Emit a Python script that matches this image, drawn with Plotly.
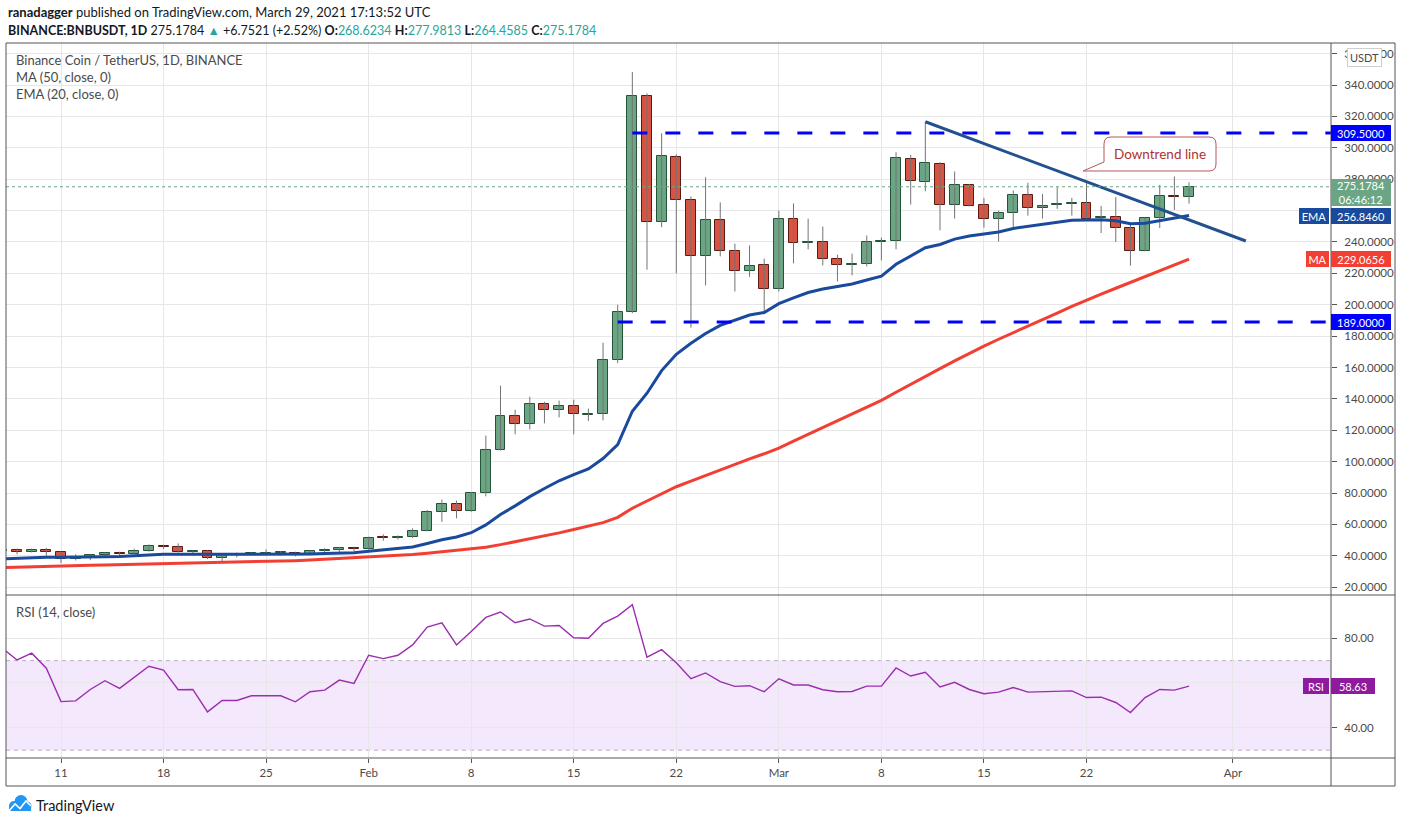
import plotly.graph_objects as go
import pandas as pd

# ---------------- data ----------------
dates = pd.date_range("2021-01-07", "2021-03-29", freq="D")

opens = [43.2, 43.9, 42.6, 43.9, 42.6, 38.1, 38.6, 40.6, 41.8, 41.2, 43.3, 46.5, 45.8,
         42.6, 43.0, 38.7, 41.1, 41.3, 41.7, 41.9, 42.0, 41.1, 42.8, 43.4, 45.1,
         44.3, 51.6, 51.4, 52.2, 56.0, 68.2, 73.0, 68.6, 80.0, 107.4, 129.1, 124.0, 136.7,
         132.9, 135.5, 129.8, 130.1, 164.8, 195.3, 332.8, 252.8, 294.4, 266.9, 231.0, 254.1,
         234.2, 221.4, 225.3,
         209.9, 254.7, 239.4, 240.0, 229.1, 225.5, 225.9, 239.8, 240.6, 292.8, 278.1, 289.6,
         263.4, 276.2, 263.4, 254.5, 258.3, 269.8, 261.5, 263.6, 264.2, 264.7, 255.3, 255.7,
         248.7, 234.0, 255.1, 269.1, 268.6234]
highs = [44.5, 44.6, 44.7, 45.1, 42.8, 40.9, 40.9, 42.3, 42.6, 44.5, 47.2, 47.0, 47.9,
         43.0, 43.4, 41.5, 42.0, 42.1, 44.0, 43.0, 42.6, 43.4, 44.8, 45.6, 45.8,
         52.2, 53.7, 53.0, 57.5, 69.2, 75.8, 75.2, 80.6, 116.6, 148.4, 133.1, 141.4, 138.2,
         138.9, 139.5, 133.8, 175.8, 200.0, 348.3, 334.7, 309.3, 295.9, 269.0, 281.2, 265.2,
         238.9, 237.7, 229.3,
         260.0, 264.5, 254.9, 249.8, 231.9, 232.5, 244.1, 242.8, 297.2, 295.5, 316.6, 290.9,
         284.9, 277.0, 268.1, 260.0, 272.8, 277.7, 270.6, 274.9, 268.1, 277.7, 263.0, 268.7,
         252.1, 255.5, 276.4, 281.7, 277.9813]
lows = [42.0, 40.9, 42.1, 40.0, 35.3, 37.0, 37.2, 39.5, 38.7, 40.8, 42.6, 44.4, 42.1,
        40.2, 37.9, 35.9, 39.0, 40.5, 40.2, 40.2, 39.6, 40.8, 41.6, 42.4, 42.8,
        43.8, 49.6, 50.4, 51.3, 55.6, 61.6, 63.9, 68.0, 77.9, 107.0, 117.4, 120.6, 124.4,
        128.2, 117.4, 125.9, 126.3, 162.8, 194.6, 222.3, 249.4, 220.0, 185.4, 212.3, 230.8,
        208.4, 217.8, 194.6,
        208.4, 226.4, 235.3, 225.1, 214.8, 218.7, 224.4, 228.3, 235.3, 263.8, 272.3, 247.4,
        254.9, 262.6, 249.1, 240.2, 248.1, 256.8, 254.9, 261.1, 256.8, 253.6, 245.7, 240.0,
        224.9, 234.0, 248.9, 260.4, 264.4585]
closes = [43.9, 42.6, 43.9, 42.6, 38.1, 38.6, 40.6, 41.8, 41.2, 43.3, 46.5, 45.8, 42.6,
          43.0, 38.7, 41.1, 41.3, 41.7, 41.9, 42.0, 41.1, 42.8, 43.4, 45.1, 44.3,
          51.6, 51.4, 52.2, 56.0, 68.2, 73.0, 68.6, 80.0, 107.4, 129.1, 124.0, 136.7, 132.9,
          135.5, 130.4, 130.1, 164.8, 195.3, 332.8, 252.8, 295.0, 266.9, 231.0, 254.1, 234.2,
          221.4, 224.6, 209.9,
          254.7, 239.4, 239.9, 229.1, 225.3, 225.9, 240.2, 240.3, 293.2, 278.7, 290.4, 263.4,
          276.2, 263.2, 254.5, 258.3, 269.8, 261.5, 262.8, 264.2, 264.8, 254.5, 255.8, 248.7,
          234.0, 255.1, 269.1, 268.4263, 275.1784]

ema20 = [38.0, 38.4, 38.7, 39.0, 39.0, 39.0, 39.2, 39.4, 39.6, 39.9, 40.5, 41.0, 41.1,
         41.2, 40.9, 40.9, 40.9, 41.0, 41.0, 41.1, 41.1, 41.2, 41.4, 41.8, 42.0,
         42.9, 43.7, 44.5, 45.6, 47.8, 50.2, 52.0, 54.7, 59.7, 66.3, 71.8, 77.7, 82.9,
         87.8, 91.7, 95.4, 102.0, 110.9, 132.1, 143.6, 158.0, 168.4, 175.4, 181.7, 186.8,
         190.1, 193.4, 195.0,
         200.7, 204.4, 207.8, 210.0, 211.5, 213.2, 215.8, 218.2, 225.8, 231.0, 236.3, 238.4,
         241.8, 243.8, 245.0, 246.4, 248.6, 250.0, 251.4, 252.7, 253.8, 254.0, 254.1, 253.5,
         251.6, 251.9, 253.6, 255.0, 256.846]

ma50 = [32.5, 32.8, 33.0, 33.3, 33.5, 33.7, 33.9, 34.1, 34.3, 34.5, 34.7, 34.8, 35.0,
        35.2, 35.4, 35.6, 35.8, 36.0, 36.3, 36.6, 36.9, 37.3, 37.8, 38.3, 38.7,
        39.1, 39.6, 40.1, 40.8, 41.6, 42.5, 43.3, 44.2, 45.5, 47.1, 48.9, 50.8, 52.7,
        54.6, 56.7, 58.7, 61.1, 64.5, 70.3, 74.9, 79.4, 84.0, 87.6, 91.2, 94.8,
        98.4, 101.8, 105.0,
        108.6, 113.0, 117.3, 121.6, 125.8, 130.0, 134.4, 139.0, 144.2, 149.4, 154.4, 159.3,
        164.2, 169.0, 173.6, 178.0, 182.3, 186.5, 190.6, 194.7, 198.9, 203.0, 206.7, 210.5,
        214.3, 218.0, 221.8, 225.5, 229.0656]

rsi14 = [75.5, 70.3, 73.3, 66.6, 51.7, 52.0, 57.1, 61.0, 57.6, 62.5, 67.5, 65.8, 57.0,
         57.1, 47.1, 52.2, 52.2, 54.3, 54.3, 54.3, 51.6, 56.1, 56.8, 61.3, 59.8,
         72.4, 70.9, 72.4, 77.0, 85.0, 86.9, 77.0, 83.0, 89.3, 91.7, 86.9, 88.6, 85.4,
         85.7, 80.2, 80.0, 86.6, 89.9, 95.0, 71.5, 74.9, 69.0, 61.9, 64.5, 60.6,
         58.5, 58.8, 56.1,
         61.9, 59.1, 59.1, 57.0, 56.1, 56.2, 58.6, 58.6, 66.7, 63.1, 64.8, 58.2,
         60.3, 57.1, 55.2, 55.9, 58.0, 55.9, 56.2, 56.5, 56.5, 53.5, 53.7, 51.3,
         46.8, 53.5, 57.1, 56.8, 58.63]

levels = [309.5, 189.0]
level_starts = ["2021-02-19", "2021-02-18"]
trend_dates = ["2021-03-11", "2021-04-01 21:00"]
trend_prices = [316.6, 240.6]

price_ticks = [20, 40, 60, 80, 100, 120, 140, 160, 180, 200, 220, 240, 260, 280, 300, 320, 340, 360]
price_hidden = [260]  # label fully covered by the price/EMA tags in the reference
rsi_ticks = [40, 60, 80]
rsi_ticktext = ["40.00", "", "80.00"]
date_ticks = ["2021-01-11", "2021-01-18", "2021-01-25", "2021-02-01", "2021-02-08", "2021-02-15",
              "2021-02-22", "2021-03-01", "2021-03-08", "2021-03-15", "2021-03-22", "2021-04-01"]
date_ticktext = ["11", "18", "25", "Feb", "8", "15", "22", "Mar", "8", "15", "22", "Apr"]

# ---------------- geometry helpers ----------------
W, H = 1402, 823
PL, PR, PT, PB = 6, 1331, 43, 758
SEP = 595


def pxx(x):
    return (x - PL) / (PR - PL)


def pxy(y):
    return (PB - y) / (PB - PT)


def path(points, close=True):
    s = ""
    for p in points:
        cmd = p[0]
        if cmd == "Q":
            s += f" Q{pxx(p[1]):.5f},{pxy(p[2]):.5f} {pxx(p[3]):.5f},{pxy(p[4]):.5f}"
        else:
            s += f" {cmd}{pxx(p[1]):.5f},{pxy(p[2]):.5f}"
    return s.strip() + (" Z" if close else "")


UP_FILL, UP_LINE = "#6ba583", "#225437"
DN_FILL, DN_LINE = "#d75442", "#5b1a13"
WICK = "#737375"
EMA_C = "#1a4a9b"
MA_C = "#f23f33"
RSI_C = "#9b2eaf"
GRID = "#e7e7e7"
FRAME = "#555555"
TXT = "#4a4a4a"
FONT = "Lato"

fig = go.Figure()

# wicks
wx, wy = [], []
for d, lo, hi in zip(dates, lows, highs):
    wx += [d, d, None]
    wy += [lo, hi, None]
fig.add_trace(go.Scatter(x=wx, y=wy, mode="lines", line=dict(color=WICK, width=1),
                         hoverinfo="skip", showlegend=False, yaxis="y"))

# bodies
bw = 0.68 * 86400000
for up in (True, False):
    xs, base, hgt = [], [], []
    for d, o, c in zip(dates, opens, closes):
        if (c >= o) == up:
            xs.append(d)
            base.append(min(o, c))
            hgt.append(max(abs(c - o), 0.25))
    fig.add_trace(go.Bar(x=xs, y=hgt, base=base, width=bw,
                         marker=dict(color=UP_FILL if up else DN_FILL,
                                     line=dict(color=UP_LINE if up else DN_LINE, width=1)),
                         hoverinfo="skip", showlegend=False, yaxis="y"))

# moving averages
fig.add_trace(go.Scatter(x=dates, y=ma50, mode="lines", line=dict(color=MA_C, width=3),
                         hoverinfo="skip", showlegend=False, yaxis="y"))
fig.add_trace(go.Scatter(x=dates, y=ema20, mode="lines", line=dict(color=EMA_C, width=3),
                         hoverinfo="skip", showlegend=False, yaxis="y"))

# horizontal levels
for lv, st in zip(levels, level_starts):
    fig.add_trace(go.Scatter(x=[st, "2021-04-12"], y=[lv, lv], mode="lines",
                             line=dict(color="#0000ff", width=3, dash="15px,18px"),
                             hoverinfo="skip", showlegend=False, yaxis="y"))

# downtrend line
fig.add_trace(go.Scatter(x=trend_dates, y=trend_prices, mode="lines",
                         line=dict(color="#23508f", width=3),
                         hoverinfo="skip", showlegend=False, yaxis="y"))

# RSI
fig.add_trace(go.Scatter(x=dates, y=rsi14, mode="lines", line=dict(color=RSI_C, width=1.4),
                         hoverinfo="skip", showlegend=False, yaxis="y2"))

shapes = []
# RSI band
shapes.append(dict(type="rect", xref="paper", yref="y2", x0=0, x1=1, y0=30, y1=70,
                   fillcolor="#f4e8fc", line=dict(width=0), layer="below"))
for v in (30, 70):
    shapes.append(dict(type="line", xref="paper", yref="y2", x0=0, x1=1, y0=v, y1=v,
                       line=dict(color="#b4b0bc", width=1, dash="4px,4px"), layer="below"))
# last price dotted line
shapes.append(dict(type="line", xref="paper", yref="y", x0=0, x1=1, y0=closes[-1], y1=closes[-1],
                   line=dict(color=UP_FILL, width=1, dash="dot")))
# frame
shapes.append(dict(type="rect", xref="paper", yref="paper", x0=pxx(6), x1=pxx(1395),
                   y0=pxy(786), y1=pxy(43), line=dict(color=FRAME, width=1)))
shapes.append(dict(type="line", xref="paper", yref="paper", x0=1, x1=1,
                   y0=pxy(786), y1=pxy(43), line=dict(color=FRAME, width=1)))
shapes.append(dict(type="line", xref="paper", yref="paper", x0=pxx(6), x1=pxx(1395),
                   y0=pxy(SEP), y1=pxy(SEP), line=dict(color=FRAME, width=1)))
shapes.append(dict(type="line", xref="paper", yref="paper", x0=pxx(6), x1=pxx(1395),
                   y0=0, y1=0, line=dict(color=FRAME, width=1)))

# callout bubble
bubble = [("M", 1111, 137), ("L", 1209, 137), ("Q", 1216, 137, 1216, 144), ("L", 1216, 164),
          ("Q", 1216, 171, 1209, 171), ("L", 1109, 171), ("L", 1083, 171), ("L", 1104, 162),
          ("L", 1104, 144), ("Q", 1104, 137, 1111, 137)]
shapes.append(dict(type="path", xref="paper", yref="paper", path=path(bubble),
                   fillcolor="white", line=dict(color="#b5575c", width=1)))

# TradingView logo (footer)
for cx, cy, r in [(14, 806, 5), (21, 801.5, 6.5), (27, 806, 4.5)]:
    shapes.append(dict(type="circle", xref="paper", yref="paper",
                       x0=pxx(cx - r), x1=pxx(cx + r), y0=pxy(cy + r), y1=pxy(cy - r),
                       fillcolor="#2196f3", line=dict(width=0)))
shapes.append(dict(type="rect", xref="paper", yref="paper", x0=pxx(9), x1=pxx(31),
                   y0=pxy(811), y1=pxy(805), fillcolor="#2196f3", line=dict(width=0)))
shapes.append(dict(type="path", xref="paper", yref="paper",
                   path=path([("M", 9, 811), ("L", 15, 804), ("L", 20, 808.5), ("L", 26, 801),
                              ("L", 31, 806)], close=False),
                   line=dict(color="white", width=1.6)))

ann = []


def text(x, y, s, size=13, color=TXT, xanchor="left", family=FONT):
    ann.append(dict(x=pxx(x), y=pxy(y), xref="paper", yref="paper", text=s, showarrow=False,
                    xanchor=xanchor, yanchor="middle", font=dict(size=size, color=color, family=family)))


TEAL = "#26a69a"
text(6, 12, "<b>ranadagger</b> published on TradingView.com, March 29, 2021 17:13:52 UTC", 13, "#131722")
text(6, 30, "<b>BINANCE:BNBUSDT, 1D</b> 275.1784 <span style='color:%s'>▲</span> +6.7521 (+2.52%%) "
     "<b>O:</b><span style='color:%s'>268.6234</span> <b>H:</b><span style='color:%s'>277.9813</span> "
     "<b>L:</b><span style='color:%s'>264.4585</span> <b>C:</b><span style='color:%s'>275.1784</span>"
     % (TEAL, TEAL, TEAL, TEAL, TEAL), 12.5, "#131722")
text(14, 60, "Binance Coin / TetherUS, 1D, BINANCE", 13)
text(14, 77, "MA (50, close, 0)", 13)
text(14, 94, "EMA (20, close, 0)", 13)
text(14, 612, "RSI (14, close)", 13)
text(1160, 154, "Downtrend line", 13.5, "#b0312f", xanchor="center")
text(34, 805, "TradingView", 14.5, "#131722")


def tag(y, s, bg, yref="y", width=56, left=True, shift=0, h=12):
    ann.append(dict(x=1, y=y, xref="paper", yref=yref, text=s, showarrow=False,
                    xanchor="left" if left else "right", yanchor="middle", xshift=shift,
                    bgcolor=bg, bordercolor=bg, borderpad=1, width=width, height=h,
                    font=dict(size=11, color="white", family=FONT), align="center"))


tag(levels[0], "%.4f" % levels[0], "#0000ff")
tag(levels[1], "%.4f" % levels[1], "#0000ff")
tag(271.8, "%.4f<br>06:46:12" % closes[-1], UP_FILL, h=23)
tag(ema20[-1], "%.4f" % ema20[-1], EMA_C)
tag(ema20[-1], "EMA", EMA_C, width=26, left=False, shift=-2)
tag(ma50[-1], "%.4f" % ma50[-1], MA_C)
tag(ma50[-1], "MA", MA_C, width=19, left=False, shift=-2)
tag(rsi14[-1], "%.2f" % rsi14[-1], "#8e1a9d", yref="y2", width=40)
tag(rsi14[-1], "RSI", "#8e1a9d", yref="y2", width=22, left=False, shift=-2)
ann.append(dict(x=pxx(1364), y=pxy(58), xref="paper", yref="paper", text="USDT", showarrow=False,
                xanchor="center", yanchor="middle", bgcolor="white", bordercolor="#cfcfcf",
                borderwidth=1, borderpad=2, font=dict(size=11, color=TXT, family=FONT)))

axis_font = dict(family=FONT, size=11.5, color=TXT)
fig.update_layout(
    width=W, height=H,
    margin=dict(l=PL, r=W - PR, t=PT, b=H - PB, pad=0),
    paper_bgcolor="white", plot_bgcolor="white",
    barmode="overlay", bargap=0,
    showlegend=False,
    shapes=shapes, annotations=ann,
    xaxis=dict(type="date", anchor="y2", domain=[0, 1],
               range=["2021-01-07 05:54", "2021-04-07 16:34"],
               tickvals=date_ticks, ticktext=date_ticktext, tickfont=axis_font,
               showgrid=True, gridcolor=GRID, gridwidth=1, zeroline=False, showline=False,
               ticks="outside", ticklen=4, tickcolor=FRAME, fixedrange=True),
    yaxis=dict(domain=[pxy(SEP), 1], anchor="x", side="right", range=[15, 366.8],
               tickvals=price_ticks,
               ticktext=["" if v in price_hidden else "%.4f" % v for v in price_ticks],
               tickfont=axis_font, showgrid=True, gridcolor=GRID, zeroline=False,
               showline=False, ticks="outside", ticklen=5, tickcolor=FRAME,
               ticklabelstandoff=5),
    yaxis2=dict(domain=[0, pxy(SEP)], anchor="x", side="right", range=[26.5, 99.3],
                tickvals=rsi_ticks, ticktext=rsi_ticktext, tickfont=axis_font,
                showgrid=True, gridcolor=GRID, zeroline=False, showline=False,
                ticks="outside", ticklen=5, tickcolor=FRAME, ticklabelstandoff=5),
)

fig.write_html("out.html", config={"displayModeBar": False},
               post_script="document.body.style.margin='0px';")
